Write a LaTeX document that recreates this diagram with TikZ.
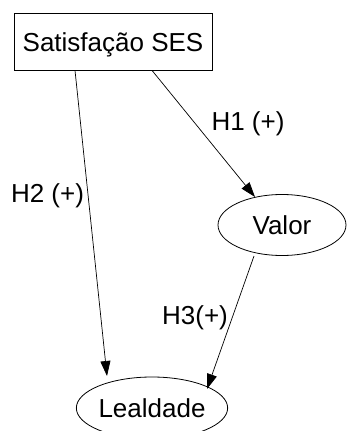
\documentclass[tikz,border=0pt]{standalone}
\usepackage{fontspec}
\setmainfont{Liberation Sans}
\usetikzlibrary{shapes.geometric,arrows.meta,calc}
\begin{document}
\begin{tikzpicture}[x=1pt,y=-1pt,
  txt/.style={font=\fontsize{26}{30}\selectfont, text height=19pt, text depth=0pt, inner sep=0pt},
  boxnode/.style={txt, draw, line width=0.8pt, minimum width=198pt, minimum height=57pt},
  ellnode/.style={txt, draw, ellipse, line width=0.8pt},
  conn/.style={line width=0.7pt, -{Triangle[length=15pt,width=10pt]}},
  lbl/.style={txt}]
\useasboundingbox (0,0) rectangle (346,431);
\node[boxnode] (box) at (113,41.5) {Satisfação SES};
\node[ellnode, minimum width=128pt, minimum height=61pt] (valor) at (282,225) {Valor};
\node[ellnode, minimum width=138pt, minimum height=62pt] (leal) at (152,408) {Lealdade};
\draw[conn] ($(box.south)+(-38,0)$) -- ($(leal.center)+(-45,-32)$);
\draw[conn] ($(box.south)+(39,0)$) -- ($(valor.center)+(-27,-28)$);
\draw[conn] ($(valor.center)+(-28,31)$) -- ($(leal.center)+(55,-19)$);
\node[lbl] (h2) at (47.5,192.5) {H2 (+)};
\node[lbl] (h1) at (248,121) {H1 (+)};
\node[lbl] (h3) at (195,315) {H3(+)};
\end{tikzpicture}
\end{document}
